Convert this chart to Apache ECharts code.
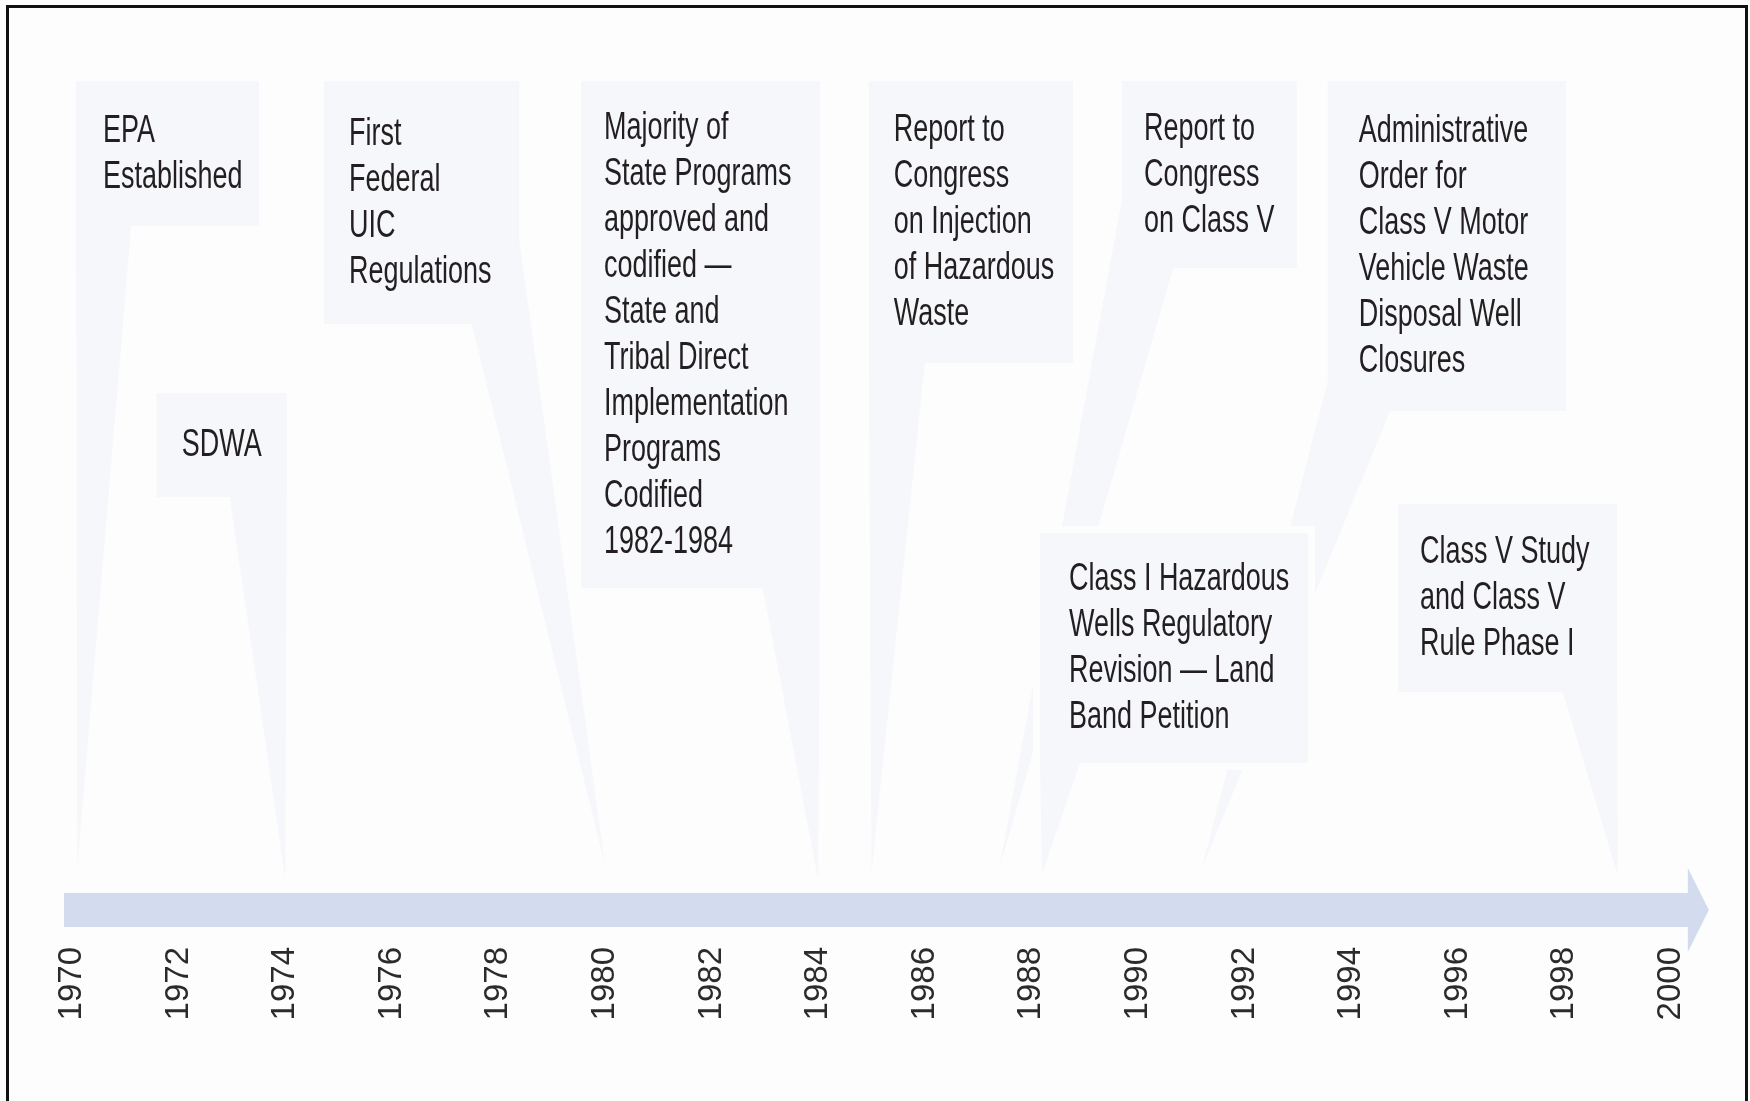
<!DOCTYPE html>
<html>
<head>
<meta charset="utf-8">
<title>UIC Program Timeline</title>
<script src="https://cdn.jsdelivr.net/npm/echarts@6/dist/echarts.min.js"></script>
<style>
  html, body { margin: 0; padding: 0; background: #ffffff; }
  #chart { width: 1750px; height: 1101px; }
</style>
</head>
<body>
<div id="chart"></div>
<script>
// years on the timeline
const yearTicks = [1970, 1972, 1974, 1976, 1978, 1980, 1982, 1984, 1986, 1988, 1990, 1992, 1994, 1996, 1998, 2000];

// events: year each callout points at, and its text
const eventYears = [1970.1, 1974, 1980, 1984, 1985, 1987.4, 1991.2, 1988.2, 1999];
const eventLabels = [
  'EPA\nEstablished',
  'SDWA',
  'First\nFederal\nUIC\nRegulations',
  'Majority of\nState Programs\napproved and\ncodified —\nState and\nTribal Direct\nImplementation\nPrograms\nCodified\n1982-1984',
  'Report to\nCongress\non Injection\nof Hazardous\nWaste',
  'Report to\nCongress\non Class V',
  'Administrative\nOrder for\nClass V Motor\nVehicle Waste\nDisposal Well\nClosures',
  'Class I Hazardous\nWells Regulatory\nRevision — Land\nBand Petition',
  'Class V Study\nand Class V\nRule Phase I'
];

// callout layout (x in years, y in height units above the axis)
const boxLeft   = [1970.075, 1971.59, 1974.73, 1979.55, 1984.95, 1989.70, 1993.56, 1988.16, 1994.88];
const boxRight  = [1973.51, 1974.03, 1978.39, 1984.03, 1988.78, 1992.98, 1998.03, 1993.19, 1998.99];
const boxTop    = [859, 547, 859, 859, 859, 859, 859, 407, 436];
const boxBottom = [714, 443, 616, 352, 577, 672, 529, 177, 248];
const tailBase  = [
  [[1970.075, 714], [1971.11, 714]],
  [[1972.96, 443], [1974.03, 443]],
  [[1977.50, 616], [1978.39, 700]],
  [[1982.96, 352], [1984.03, 352]],
  [[1984.95, 577], [1986.00, 577]],
  [[1989.70, 741], [1990.66, 672]],
  [[1993.60, 567], [1994.73, 529]],
  [[1988.16, 177], [1988.91, 177]],
  [[1997.97, 248], [1998.99, 248]]
];
const tipHeight = [72, 62, 75, 60, 68, 72, 72, 66, 65];
const textInset = [27, 25, 25, 23, 25, 22, 31, 29, 22];

// timeline arrow from start to tip, at this height
const timelineSpan = [1969.85, 2000.71];
const timelineHeight = 30;

const bgColor = '#fdfdfd';
const boxColor = '#f6f7fb';
const tailColor = '#f6f7fb';
const barColor = '#d3dcee';
// no condensed face installed: squeeze a regular sans horizontally
const textFont = '"Liberation Sans", Arial, sans-serif';
const textSqueeze = 0.71;

const chart = echarts.init(document.getElementById('chart'), null, { renderer: 'canvas' });

const option = {
  animation: false,
  backgroundColor: bgColor,
  grid: { left: 72, right: 79, top: 80, bottom: 161, containLabel: false },
  xAxis: {
    type: 'value',
    min: yearTicks[0],
    max: yearTicks[yearTicks.length - 1],
    interval: 2,
    axisLine: { show: false },
    axisTick: { show: false },
    splitLine: { show: false },
    axisLabel: {
      rotate: 90,
      margin: 7,
      fontSize: 33,
      fontFamily: '"Liberation Sans", Arial, sans-serif',
      color: '#2b2b2b',
      formatter: (v) => String(v)
    }
  },
  yAxis: {
    type: 'value',
    min: 0,
    max: 860,
    show: false
  },
  graphic: [
    {
      type: 'rect',
      z: 100,
      silent: true,
      shape: { x: 7.5, y: 6.5, width: 1739, height: 1200 },
      style: { fill: 'none', stroke: '#111', lineWidth: 3 }
    }
  ],
  series: [
    {
      // the arrow bar
      type: 'custom',
      clip: false,
      silent: true,
      data: [[timelineSpan[0], timelineSpan[1], timelineHeight]],
      renderItem: function (params, api) {
        const s = api.coord([api.value(0), api.value(2)]);
        const t = api.coord([api.value(1), api.value(2)]);
        const half = 17, headHalf = 42, headLen = 21;
        const hx = t[0] - headLen;
        const cy = s[1];
        return {
          type: 'polygon',
          shape: {
            points: [
              [s[0], cy - half], [hx, cy - half], [hx, cy - headHalf],
              [t[0], cy], [hx, cy + headHalf], [hx, cy + half], [s[0], cy + half]
            ]
          },
          style: { fill: barColor }
        };
      }
    },
    {
      // callout boxes with their pointers
      type: 'custom',
      clip: false,
      silent: true,
      data: eventYears.map((yr, i) => [yr, tipHeight[i], i]),
      renderItem: function (params, api) {
        const i = api.value(2);
        const lt = api.coord([boxLeft[i], boxTop[i]]);
        const rb = api.coord([boxRight[i], boxBottom[i]]);
        const b1 = api.coord(tailBase[i][0]);
        const b2 = api.coord(tailBase[i][1]);
        const tip = api.coord([api.value(0), api.value(1)]);
        const w = rb[0] - lt[0];
        const h = rb[1] - lt[1];
        return {
          type: 'group',
          children: [
            {
              type: 'rect',
              shape: { x: lt[0] - 7, y: lt[1] - 7, width: w + 14, height: h + 14 },
              style: { fill: bgColor }
            },
            {
              type: 'polygon',
              shape: { points: [b1, b2, tip] },
              style: { fill: tailColor }
            },
            {
              type: 'rect',
              shape: { x: lt[0], y: lt[1], width: w, height: h },
              style: { fill: boxColor }
            },
            {
              type: 'text',
              x: lt[0] + textInset[i],
              y: (lt[1] + rb[1]) / 2 + 1,
              scaleX: textSqueeze,
              style: {
                text: eventLabels[i],
                fontSize: 38,
                fontFamily: textFont,
                lineHeight: 46,
                fill: '#231f20',
                align: 'left',
                verticalAlign: 'middle'
              }
            }
          ]
        };
      }
    }
  ]
};

chart.setOption(option);
window.addEventListener('resize', () => chart.resize());
</script>
</body>
</html>
